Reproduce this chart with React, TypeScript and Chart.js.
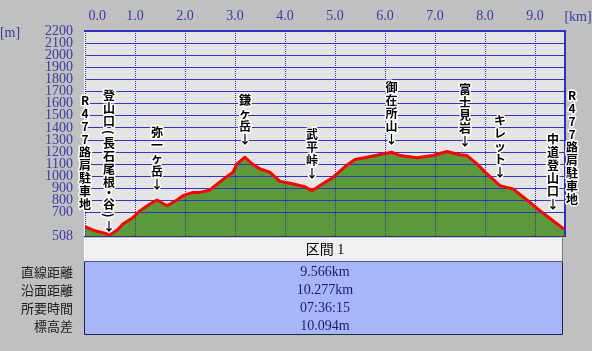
import React, { useEffect, useRef } from "react";
import { Chart, registerables } from "chart.js";

Chart.register(...registerables);

// ---- data ----
const distKm = [
  0, 0.2, 0.5, 0.64, 0.76, 0.96, 1.1, 1.3, 1.44, 1.64, 1.84, 1.96, 2.16, 2.3, 2.5,
  2.6, 2.8, 2.96, 3.04, 3.2, 3.36, 3.5, 3.7, 3.9, 4.1, 4.4, 4.54, 4.7, 4.96, 5.2,
  5.4, 5.64, 5.96, 6.14, 6.3, 6.64, 6.96, 7.24, 7.5, 7.64, 7.84, 8.04, 8.3, 8.56,
  8.84, 9.1, 9.36, 9.58,
];
const elevM = [
  585, 551, 518, 555, 607, 661, 717, 772, 805, 758, 805, 841, 868, 868, 888,
  924, 987, 1034, 1103, 1158, 1098, 1062, 1034, 959, 943, 915, 882, 924, 992, 1081,
  1139, 1158, 1186, 1199, 1172, 1153, 1172, 1205, 1179, 1172, 1103, 1020, 924, 896,
  805, 717, 634, 565,
];
const xTickKm = [0, 1, 2, 3, 4, 5, 6, 7, 8, 9];
const yTickM = [508, 700, 800, 900, 1000, 1100, 1200, 1300, 1400, 1500, 1600, 1700, 1800, 1900, 2000, 2100, 2200];

const noteText = [
  "R477路肩駐車地",
  "登山口(長石尾根・谷)↓",
  "弥一ヶ岳↓",
  "鎌ヶ岳↓",
  "武平峠↓",
  "御在所山↓",
  "富士見岩↓",
  "キレット↓",
  "中道登山口↓",
  "R477路肩駐車地",
];
const noteKm = [0, 0.48, 1.44, 3.2, 4.54, 6.13, 7.6, 8.3, 9.36, 9.74];
const noteTipM = [717, 534, 882, 1255, 974, 1255, 1236, 982, 717, 758];

const tableHeader = "区間 1";
const rowLabels = ["直線距離", "沿面距離", "所要時間", "標高差"];
const rowValues = ["9.566km", "10.277km", "07:36:15", "10.094m"];

// ---- styles ----
const TICK_COLOR = "#3a3aa8";
const SERIF = "'Liberation Serif', 'Noto Sans CJK JP', serif";
const SANS_JP = "'Noto Sans CJK JP', 'Noto Sans', sans-serif";

const smallChars = "()・";

function drawVertical(ctx: CanvasRenderingContext2D, text: string, x: number, bottom: number) {
  const chars = Array.from(text);
  const steps = chars.map((c) => (smallChars.includes(c) ? 9 : 13));
  let y = bottom - steps.reduce((s, v) => s + v, 0);
  ctx.font = `bold 12px ${SANS_JP}`;
  ctx.textAlign = "center";
  ctx.textBaseline = "middle";
  ctx.lineJoin = "round";
  ctx.lineWidth = 3;
  ctx.strokeStyle = "#ffffff";
  ctx.fillStyle = "#000000";
  chars.forEach((c, i) => {
    const cy = y + steps[i] / 2;
    ctx.save();
    ctx.translate(x, cy);
    if (c === "(" || c === ")") ctx.rotate(Math.PI / 2);
    ctx.strokeText(c, 0, 0);
    ctx.fillText(c, 0, 0);
    ctx.restore();
    y += steps[i];
  });
}

const profilePlugin = {
  id: "profileDecor",
  beforeDraw(chart: any) {
    const { ctx, chartArea: a } = chart;
    ctx.save();
    ctx.fillStyle = "#c0c0c0";
    ctx.fillRect(0, 0, chart.width, chart.height);
    ctx.fillStyle = "#e4e4e4";
    ctx.fillRect(a.left - 1, a.top, a.right - a.left + 1, a.bottom - a.top);
    ctx.restore();
  },
  afterDatasetDraw(chart: any, args: any) {
    if (args.index === 0) {
      chart.scales.x.drawGrid(chart.chartArea);
      chart.scales.y.drawGrid(chart.chartArea);
    }
  },
  afterDraw(chart: any) {
    const { ctx, chartArea: a, scales } = chart;
    const xs = scales.x;
    const ys = scales.y;
    ctx.save();
    // frame
    ctx.lineWidth = 1;
    ctx.strokeStyle = "#f4f4f4";
    ctx.beginPath();
    ctx.moveTo(a.left - 0.5, a.top);
    ctx.lineTo(a.left - 0.5, a.bottom);
    ctx.stroke();
    ctx.strokeStyle = "#303080";
    ctx.beginPath();
    ctx.moveTo(a.left - 1, a.bottom + 0.5);
    ctx.lineTo(a.right + 1, a.bottom + 0.5);
    ctx.stroke();
    ctx.lineWidth = 2;
    ctx.strokeStyle = "#3030c0";
    ctx.beginPath();
    ctx.moveTo(a.left - 1, a.top);
    ctx.lineTo(a.right + 1, a.top);
    ctx.moveTo(a.right, a.top);
    ctx.lineTo(a.right, a.bottom);
    ctx.stroke();

    // units
    ctx.font = `14px ${SERIF}`;
    ctx.fillStyle = TICK_COLOR;
    ctx.textAlign = "center";
    ctx.textBaseline = "middle";
    ctx.fillText("[km]", a.right + 13, 17);
    ctx.fillText("[m]", 10, a.top + 2);

    // annotations
    noteText.forEach((t, i) => {
      const x = xs.getPixelForValue(noteKm[i]);
      const b = ys.getPixelForValue(noteTipM[i]);
      drawVertical(ctx, t, x, b);
    });

    // table
    const L = a.left - 1;
    const R = a.right - 2;
    const hTop = a.bottom + 2;
    const hBot = hTop + 24;
    const bBot = hBot + 73;
    ctx.fillStyle = "#f0f0f0";
    ctx.fillRect(L, hTop, R - L, hBot - hTop);
    ctx.fillStyle = "#a6b6f8";
    ctx.fillRect(L, hBot, R - L, bBot - hBot);
    ctx.lineWidth = 1;
    ctx.strokeStyle = "#ffffff";
    ctx.beginPath();
    ctx.moveTo(L, hTop + 0.5);
    ctx.lineTo(R, hTop + 0.5);
    ctx.moveTo(L + 0.5, hTop);
    ctx.lineTo(L + 0.5, hBot);
    ctx.stroke();
    ctx.strokeStyle = "#7c7c7c";
    ctx.beginPath();
    ctx.moveTo(R - 0.5, hTop);
    ctx.lineTo(R - 0.5, hBot);
    ctx.stroke();
    ctx.strokeStyle = "#4a5a8a";
    ctx.beginPath();
    ctx.moveTo(L, hBot - 0.5);
    ctx.lineTo(R, hBot - 0.5);
    ctx.stroke();
    ctx.strokeStyle = "#1e2450";
    ctx.beginPath();
    ctx.moveTo(L + 0.5, hBot);
    ctx.lineTo(L + 0.5, bBot - 0.5);
    ctx.lineTo(R - 0.5, bBot - 0.5);
    ctx.lineTo(R - 0.5, hBot);
    ctx.stroke();

    const cx = (a.left + a.right) / 2;
    ctx.textAlign = "center";
    ctx.textBaseline = "middle";
    ctx.font = `14px ${SERIF}`;
    ctx.fillStyle = "#000000";
    ctx.fillText(tableHeader, cx, (hTop + hBot) / 2);
    rowValues.forEach((v, i) => {
      ctx.fillStyle = "#1c1c6c";
      ctx.font = `14px ${SERIF}`;
      ctx.textAlign = "center";
      ctx.fillText(v, cx, hBot + 10 + i * 18);
      ctx.fillStyle = "#202020";
      ctx.font = `13px ${SANS_JP}`;
      ctx.textAlign = "right";
      ctx.fillText(rowLabels[i], 73, hBot + 10 + i * 18);
    });
    ctx.restore();
  },
};

export default function App() {
  const ref = useRef<HTMLCanvasElement | null>(null);
  useEffect(() => {
    document.body.style.margin = "0";
    const canvas = ref.current;
    if (!canvas) return;
    const points = distKm.map((x, i) => ({ x, y: elevM[i] }));
    const tickFont = { family: SERIF, size: 14 };
    const chart = new Chart(canvas, {
      type: "line",
      data: {
        datasets: [
          {
            data: points,
            fill: "start",
            backgroundColor: "#5a9a38",
            borderColor: "rgba(0,0,0,0)",
            borderWidth: 1,
            pointRadius: 0,
            tension: 0,
            order: 2,
          },
          {
            data: points,
            fill: false,
            borderColor: "#ff0000",
            borderWidth: 3,
            borderJoinStyle: "round",
            pointRadius: 0,
            tension: 0,
            order: 1,
          },
        ],
      },
      options: {
        animation: false,
        responsive: false,
        devicePixelRatio: 1,
        layout: { padding: { left: 0, right: 27, top: 0, bottom: 115 } },
        plugins: { legend: { display: false }, tooltip: { enabled: false } },
        scales: {
          x: {
            type: "linear",
            position: "top",
            min: 0,
            max: 9.6,
            afterBuildTicks: (s: any) => {
              s.ticks = xTickKm.map((v) => ({ value: v }));
            },
            afterFit: (s: any) => {
              s.height = 31;
            },
            grid: { color: "#3030b8", lineWidth: 1, drawTicks: false },
            border: { display: false, dash: [1, 1] },
            ticks: {
              color: TICK_COLOR,
              font: tickFont,
              padding: 6,
              autoSkip: false,
              maxRotation: 0,
              // the first label sits just inside the plot edge, as in the original
              callback: (v: any) => (Number(v) === 0 ? "       0.0" : Number(v).toFixed(1)),
            },
          },
          y: {
            type: "linear",
            min: 508,
            max: 2200,
            afterBuildTicks: (s: any) => {
              s.ticks = yTickM.map((v) => ({ value: v }));
            },
            afterFit: (s: any) => {
              s.width = 85;
            },
            grid: { color: "#3434c4", lineWidth: 1, drawTicks: false },
            border: { display: false },
            ticks: {
              color: TICK_COLOR,
              font: tickFont,
              padding: 12,
              autoSkip: false,
              callback: (v: any) => String(v),
            },
          },
        },
      },
      plugins: [profilePlugin],
    } as any);
    return () => chart.destroy();
  }, []);
  return (
    <div style={{ width: 592, height: 351, background: "#c0c0c0" }}>
      <canvas ref={ref} width={592} height={351} style={{ display: "block" }} />
    </div>
  );
}
